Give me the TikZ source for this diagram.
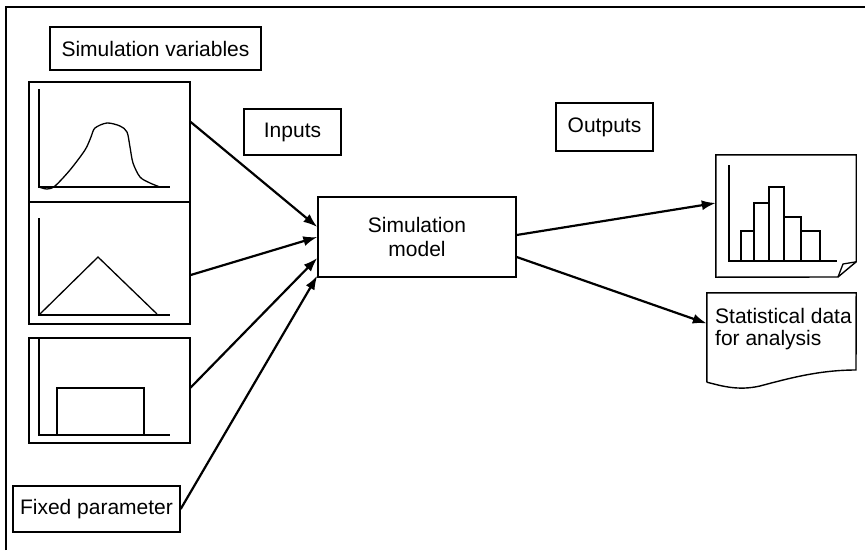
\documentclass[tikz,border=0pt]{standalone}
\usepackage{fontspec}
\setmainfont{Liberation Sans}
\usetikzlibrary{arrows.meta}

\begin{document}
\begin{tikzpicture}[
    x=1pt, y=-1pt,
    every node/.style={font=\fontsize{21}{24}\selectfont},
    labelbox/.style={rectangle,draw,line width=1.4pt,inner sep=0pt},
    panel/.style={rectangle,draw,line width=1.4pt,minimum width=161pt,inner sep=0pt},
    curve/.style={line width=1.3pt},
    flow/.style={-{Latex[length=14pt,width=10pt]},line width=2.2pt},
]
\useasboundingbox (0,0) rectangle (865,554);

% frame
\draw[line width=1.8pt] (6,550) -- (6,7) -- (865,7);

% labels
\node[labelbox, minimum width=211pt, minimum height=43pt] (simvars) at (155.5,48.5) {Simulation variables};
\node[labelbox, minimum width=97pt, minimum height=46pt] (inputs) at (292.5,132) {Inputs};
\node[labelbox, minimum width=97pt, minimum height=48pt] (outputs) at (604.5,127) {Outputs};
\node[labelbox, minimum width=198pt, minimum height=80pt, align=center] (model) at (417,237) {Simulation\\model};
\node[labelbox, minimum width=167pt, minimum height=46pt] (fixedpar) at (96.5,509) {Fixed parameter};

% input distributions
\node[panel, minimum height=120pt] (pdfbell) at (109.5,142) {};
\draw[curve] (39,89) -- (39,187) -- (170,187);
\draw[curve] plot[smooth] coordinates {(39,187) (47,189) (55,186) (70,170) (85,150) (91,137)
    (95,128) (107,123) (120,126) (127,132) (130,147) (133,163) (140,177) (150,183) (160,187)};

\node[panel, minimum height=122pt] (pdftri) at (109.5,263) {};
\draw[curve] (39,218) -- (39,315) -- (170,315);
\draw[curve] (40,314) -- (98,257) -- (157,314);

\node[panel, minimum height=105pt] (pdfunif) at (109.5,390.5) {};
\draw[curve] (39,338) -- (39,435) -- (170,435);
\draw[curve] (57,435) -- (57,388) -- (144,388) -- (144,435);

% outputs
\node[minimum width=140pt, minimum height=122pt, inner sep=0pt] (histdoc) at (786,216) {};
\draw[line width=1.4pt] (histdoc.north west) -- (histdoc.north east) -- ++(0,107) coordinate (foldtop)
    -- (838,277) coordinate (foldend) -- (histdoc.south west) -- cycle;
\draw[curve] (foldend) .. controls (841,270) .. (843,264) -- (foldtop);
\draw[curve] (729,165) -- (729,261) -- (837,261);
\foreach \xa/\xb/\ytop in {741/754/231, 754/769/203, 769/784/187, 784/801/217, 801/820/231}
    \draw[curve] (\xa,261) rectangle (\xb,\ytop);

\node[minimum width=149pt, minimum height=89pt, inner sep=0pt] (statdoc) at (781.5,337.5) {};
\draw[line width=1.4pt] (statdoc.south west) -- (statdoc.north west) -- (statdoc.north east) -- (856,370)
    .. controls (820,370) and (790,378) .. (760,386)
    .. controls (738,391) and (722,386) .. (statdoc.south west);
\node[anchor=north west, align=left, inner sep=0pt, font=\fontsize{21}{22}\selectfont] (stattext) at (715,308) {Statistical data\\for analysis};

% arrows
\draw[flow] ([yshift=20pt]pdfbell.east) -- ([yshift=10pt]model.west);
\draw[flow] ([yshift=-12pt]pdftri.east) -- (model.west);
\draw[flow] ([yshift=3pt]pdfunif.east) -- ([yshift=-21pt]model.west);
\draw[flow] (fixedpar.east) -- ([yshift=2pt]model.south west);
\draw[flow] ([yshift=2pt]model.east) -- ([yshift=13pt]histdoc.west);
\draw[flow] ([yshift=-20pt]model.east) -- ([yshift=14pt]statdoc.west);
\end{tikzpicture}
\end{document}
